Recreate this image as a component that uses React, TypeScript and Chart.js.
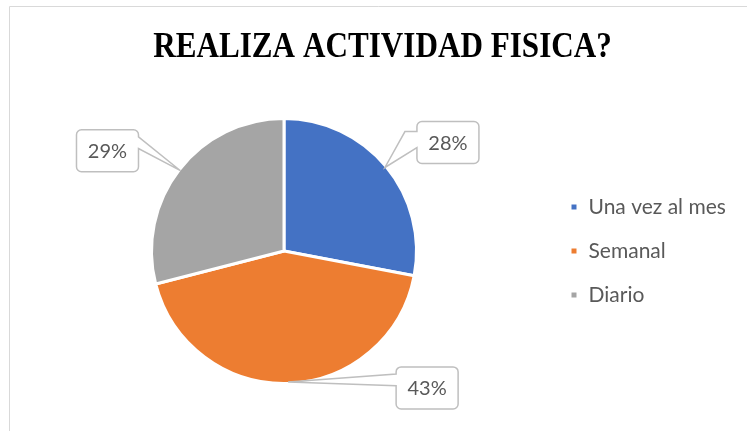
import React, { useEffect, useRef } from 'react';
import { Chart, registerables } from 'chart.js';

Chart.register(...registerables);

const TITLE = 'REALIZA ACTIVIDAD FISICA?';
const categories = ['Una vez al mes', 'Semanal', 'Diario'];
const percentages = [28, 43, 29];
const sliceColors = ['#4472C4', '#ED7D31', '#A5A5A5'];
// callout box centre relative to the leader tip (layout only)
const calloutOffsets = [
  [63, -25],
  [139, 6],
  [-73, -20],
];

const TEXT_COLOR = '#595959';
const LINE_COLOR = '#BFBFBF';
const LABEL_FONT = 'Lato, "Open Sans", sans-serif';
const LEGEND_FONT_SIZE = 21;
const LEGEND_PADDING = 23;
const LEGEND_BOX = 8;
const LEGEND_LEFT = 547;

function calloutPath(ctx: CanvasRenderingContext2D, tx: number, ty: number, cx: number, cy: number) {
  const w = 62, h = 42, r = 5;
  const x0 = cx - w / 2, x1 = cx + w / 2, y0 = cy - h / 2, y1 = cy + h / 2;
  const far = Math.abs(ty - cy) > h / 2;
  const b1 = y0 + (far ? 0.24 : 0.17) * h;
  const b2 = y0 + (far ? 0.62 : 0.45) * h;
  ctx.beginPath();
  ctx.moveTo(x0 + r, y0);
  ctx.lineTo(x1 - r, y0);
  ctx.arcTo(x1, y0, x1, y0 + r, r);
  if (tx > x1) {
    ctx.lineTo(x1, b1);
    if (far) ctx.lineTo(x1 + 13, b1);
    ctx.lineTo(tx, ty);
    ctx.lineTo(x1, b2);
  }
  ctx.lineTo(x1, y1 - r);
  ctx.arcTo(x1, y1, x1 - r, y1, r);
  ctx.lineTo(x0 + r, y1);
  ctx.arcTo(x0, y1, x0, y1 - r, r);
  if (tx < x0) {
    ctx.lineTo(x0, b2);
    ctx.lineTo(tx, ty);
    if (far) ctx.lineTo(x0 - 12, b1);
    ctx.lineTo(x0, b1);
  }
  ctx.lineTo(x0, y0 + r);
  ctx.arcTo(x0, y0, x0 + r, y0, r);
  ctx.closePath();
}

const decorPlugin = {
  id: 'decor',
  beforeDraw(chart: any) {
    const ctx = chart.ctx as CanvasRenderingContext2D;
    ctx.save();
    ctx.strokeStyle = '#D9D9D9';
    ctx.lineWidth = 1;
    ctx.beginPath();
    ctx.moveTo(9.5, chart.height);
    ctx.lineTo(9.5, 6.5);
    ctx.lineTo(chart.width, 6.5);
    ctx.stroke();
    // title
    ctx.fillStyle = '#000000';
    ctx.font = 'bold 35px "Liberation Serif", "Times New Roman", serif';
    ctx.textAlign = 'center';
    ctx.textBaseline = 'alphabetic';
    ctx.translate(382.5, 57);
    ctx.scale(0.89, 1);
    ctx.fillText(TITLE, 0, 0);
    ctx.restore();
  },
  afterDatasetsDraw(chart: any) {
    const ctx = chart.ctx as CanvasRenderingContext2D;
    const meta = chart.getDatasetMeta(0);
    const data = chart.data.datasets[0].data as number[];
    const total = data.reduce((a, b) => a + b, 0);
    meta.data.forEach((arc: any, i: number) => {
      const p = arc.getProps(['x', 'y', 'startAngle', 'endAngle', 'outerRadius'], true);
      const mid = (p.startAngle + p.endAngle) / 2;
      const rr = p.outerRadius - 1.5;
      const tx = p.x + Math.cos(mid) * rr;
      const ty = p.y + Math.sin(mid) * rr;
      const [ox, oy] = calloutOffsets[i];
      const cx = tx + ox, cy = ty + oy;
      ctx.save();
      calloutPath(ctx, tx, ty, cx, cy);
      ctx.fillStyle = '#FFFFFF';
      ctx.fill();
      ctx.strokeStyle = LINE_COLOR;
      ctx.lineWidth = 1.5;
      ctx.lineJoin = 'miter';
      ctx.stroke();
      ctx.fillStyle = TEXT_COLOR;
      ctx.font = `20px ${LABEL_FONT}`;
      ctx.textAlign = 'center';
      ctx.textBaseline = 'middle';
      ctx.fillText(`${Math.round((data[i] / total) * 100)}%`, cx, cy + 1);
      ctx.restore();
    });
  },
};

export default function App() {
  const ref = useRef<HTMLCanvasElement | null>(null);
  useEffect(() => {
    if (!ref.current) return;
    const mctx = ref.current.getContext('2d') as CanvasRenderingContext2D;
    mctx.font = `normal ${LEGEND_FONT_SIZE}px ${LABEL_FONT}`;
    const maxText = Math.max(...categories.map((c) => mctx.measureText(c).width));
    const legendWidth = LEGEND_PADDING + LEGEND_BOX + LEGEND_FONT_SIZE / 2 + maxText + 10;
    const rightPad = Math.max(0, 747 - LEGEND_LEFT - legendWidth);
    const chart = new Chart(ref.current, {
      type: 'pie',
      data: {
        labels: categories,
        datasets: [
          {
            data: percentages,
            backgroundColor: sliceColors,
            borderColor: '#FFFFFF',
            borderWidth: 3,
          },
        ],
      },
      options: {
        responsive: false,
        animation: false,
        layout: { padding: { left: 21, right: rightPad, top: 117, bottom: 46 } },
        plugins: {
          title: { display: false },
          tooltip: { enabled: false },
          legend: {
            position: 'right',
            labels: {
              boxWidth: LEGEND_BOX,
              boxHeight: LEGEND_BOX,
              padding: LEGEND_PADDING,
              color: TEXT_COLOR,
              font: { size: LEGEND_FONT_SIZE, family: LABEL_FONT },
            },
          },
        },
      },
      plugins: [decorPlugin],
    });
    return () => chart.destroy();
  }, []);
  return (
    <div style={{ position: 'fixed', left: 0, top: 0, width: 747, height: 431, background: '#FFFFFF' }}>
      <canvas ref={ref} width={747} height={431} style={{ display: 'block' }} />
    </div>
  );
}
